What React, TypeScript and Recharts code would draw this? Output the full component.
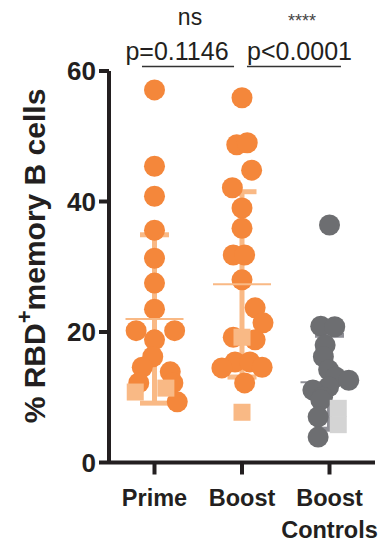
import { ScatterChart, Scatter, XAxis, YAxis, ErrorBar, ReferenceLine } from 'recharts'

// group names (third one wraps onto two lines under its tick)
const groups = ['Prime', 'Boost', 'Boost Controls']
const groupTicks = [1, 2, 3]
const yTicks = [0, 20, 40, 60]

// % RBD+ memory B cells, one entry per donor; spread = sideways jitter in group units
const primeValues = [57.1, 45.4, 40.8, 35.6, 31.3, 27.5, 23.5, 20.2, 20.2, 18.8, 16.2, 14.6, 13.9, 12.2, 12.2, 9.3]
const primeSpread = [0, 0, 0, 0, 0, 0, 0, -0.21, 0.23, 0, -0.02, -0.14, 0.18, 0.21, -0.18, 0.26]
const primeSquares = [10.8, 11.4]
const primeSquareSpread = [-0.22, 0.13]

const boostValues = [55.9, 48.7, 49.0, 44.8, 42.1, 39.0, 35.9, 31.8, 31.8, 28.0, 23.7, 21.4, 19.2, 18.8, 15.4, 14.5, 15.4, 14.6, 12.2]
const boostSpread = [0, -0.06, 0.06, 0.11, -0.11, 0, 0, -0.1, 0.03, 0, 0.15, 0.24, -0.1, 0.15, -0.08, -0.23, 0.09, 0.23, 0.03]
const boostSquares = [19.2, 7.7]
const boostSquareSpread = [0, 0]

const controlValues = [36.4, 20.9, 20.8, 18.0, 16.2, 14.2, 13.1, 12.6, 11.6, 11.1, 10.0, 9.6, 7.0, 3.9]
const controlSpread = [0, -0.1, 0.06, -0.05, -0.07, -0.01, 0.07, 0.22, -0.01, -0.19, -0.08, -0.1, -0.13, -0.13]
const controlSquares = [8.3, 5.8]
const controlSquareSpread = [0.1, 0.1]

const means = [22.0, 27.3, 12.3]
const sds = [12.9, 14.2, 7.2]

const pValues = ['p=0.1146', 'p<0.0001']
const stars = ['ns', '****']

const toPoints = (pos: number, values: number[], spread: number[]) =>
  values.map((v, i) => ({ x: pos + spread[i], y: v }))

const INK = '#231f20'
const ORANGE = '#f4873b'
const PALE_ORANGE = '#f9b985'
const GRAY = '#6d6e71'
const PALE_GRAY = '#d4d4d4'
const SD_GRAY = '#8f8f96'
const FONT = "'Liberation Sans', Arial, sans-serif"

const circle = (fill: string) => (p: any) => <circle cx={p.cx} cy={p.cy} r={10.5} fill={fill} />
const square = (fill: string) => (p: any) => <rect x={p.cx - 8.5} y={p.cy - 8.5} width={17} height={17} fill={fill} />
const meanLine = (stroke: string) => (p: any) => (
  <line x1={p.cx - 29} x2={p.cx + 29} y1={p.cy} y2={p.cy} stroke={stroke} strokeWidth={2} />
)

function CategoryTick(props: any) {
  const { x, y, payload } = props
  const name = groups[payload.value - 1] ?? ''
  const lines = name === 'Boost Controls' ? ['Boost', 'Controls'] : [name]
  return (
    <text x={x} y={y} textAnchor="middle" fontSize={23.5} fontWeight="bold" fill={INK} fontFamily={FONT}>
      {lines.map((l, i) => (
        <tspan key={i} x={x} dy={i === 0 ? 31 : 32}>{l}</tspan>
      ))}
    </text>
  )
}

function MeanSd({ i, stroke }: { i: number; stroke: string }) {
  return (
    <Scatter
      data={[{ x: groupTicks[i], y: means[i], sd: sds[i] }]}
      shape={meanLine(stroke)}
      isAnimationActive={false}
    >
      <ErrorBar dataKey="sd" direction="y" width={14.5} stroke={stroke} strokeWidth={5} isAnimationActive={false} />
    </Scatter>
  )
}

export default function App() {
  return (
    <div style={{ position: 'absolute', left: 0, top: 0, width: 379, height: 546, background: '#fff' }}>
      <ScatterChart width={379} height={546} margin={{ top: 71, right: 4, bottom: 0, left: 0 }}>
        <XAxis
          type="number"
          dataKey="x"
          domain={[0.48, 3.52]}
          ticks={groupTicks}
          interval={0}
          allowDataOverflow
          height={83.5}
          tickSize={12}
          tickMargin={0}
          tick={<CategoryTick />}
          axisLine={{ stroke: INK, strokeWidth: 4 }}
          tickLine={{ stroke: INK, strokeWidth: 4 }}
        />
        <YAxis
          type="number"
          dataKey="y"
          domain={[0, 60]}
          ticks={yTicks}
          allowDataOverflow
          width={109}
          tickSize={10}
          tickMargin={3}
          tick={{ fontSize: 26, fontWeight: 'bold', fill: INK, fontFamily: FONT }}
          axisLine={{ stroke: INK, strokeWidth: 4 }}
          tickLine={{ stroke: INK, strokeWidth: 4 }}
        />
        {MeanSd({ i: 2, stroke: SD_GRAY })}
        <Scatter data={toPoints(1, primeValues, primeSpread)} shape={circle(ORANGE)} isAnimationActive={false} />
        <Scatter data={toPoints(2, boostValues, boostSpread)} shape={circle(ORANGE)} isAnimationActive={false} />
        <Scatter data={toPoints(3, controlValues, controlSpread)} shape={circle(GRAY)} isAnimationActive={false} />
        <Scatter data={toPoints(1, primeSquares, primeSquareSpread)} shape={square(PALE_ORANGE)} isAnimationActive={false} />
        <Scatter data={toPoints(2, boostSquares, boostSquareSpread)} shape={square(PALE_ORANGE)} isAnimationActive={false} />
        <Scatter data={toPoints(3, controlSquares, controlSquareSpread)} shape={square(PALE_GRAY)} isAnimationActive={false} />
        {MeanSd({ i: 0, stroke: PALE_ORANGE })}
        {MeanSd({ i: 1, stroke: PALE_ORANGE })}
        <ReferenceLine
          segment={[{ x: 0.857, y: 60.7 }, { x: 1.909, y: 60.7 }]}
          stroke="#333"
          strokeWidth={1.5}
          ifOverflow="visible"
        />
        <ReferenceLine
          segment={[{ x: 2.057, y: 60.7 }, { x: 3.131, y: 60.7 }]}
          stroke="#333"
          strokeWidth={1.5}
          ifOverflow="visible"
        />
      </ScatterChart>
      <svg width={379} height={546} style={{ position: 'absolute', left: 0, top: 0, pointerEvents: 'none' }}>
        <g fontFamily={FONT} fill={INK} textAnchor="middle">
          <text x={190} y={25} fontSize={23}>{stars[0]}</text>
          <text x={302} y={27} fontSize={18} fill="#444">{stars[1]}</text>
          <text x={177} y={60} fontSize={25}>{pValues[0]}</text>
          <text x={299.5} y={60} fontSize={25}>{pValues[1]}</text>
          <text x={45} y={256} fontSize={30} fontWeight="bold" transform="rotate(-90 45 256)">
            % RBD<tspan fontSize={22} dy={-13}>+</tspan>
            <tspan dy={13}>memory B cells</tspan>
          </text>
        </g>
      </svg>
    </div>
  )
}
